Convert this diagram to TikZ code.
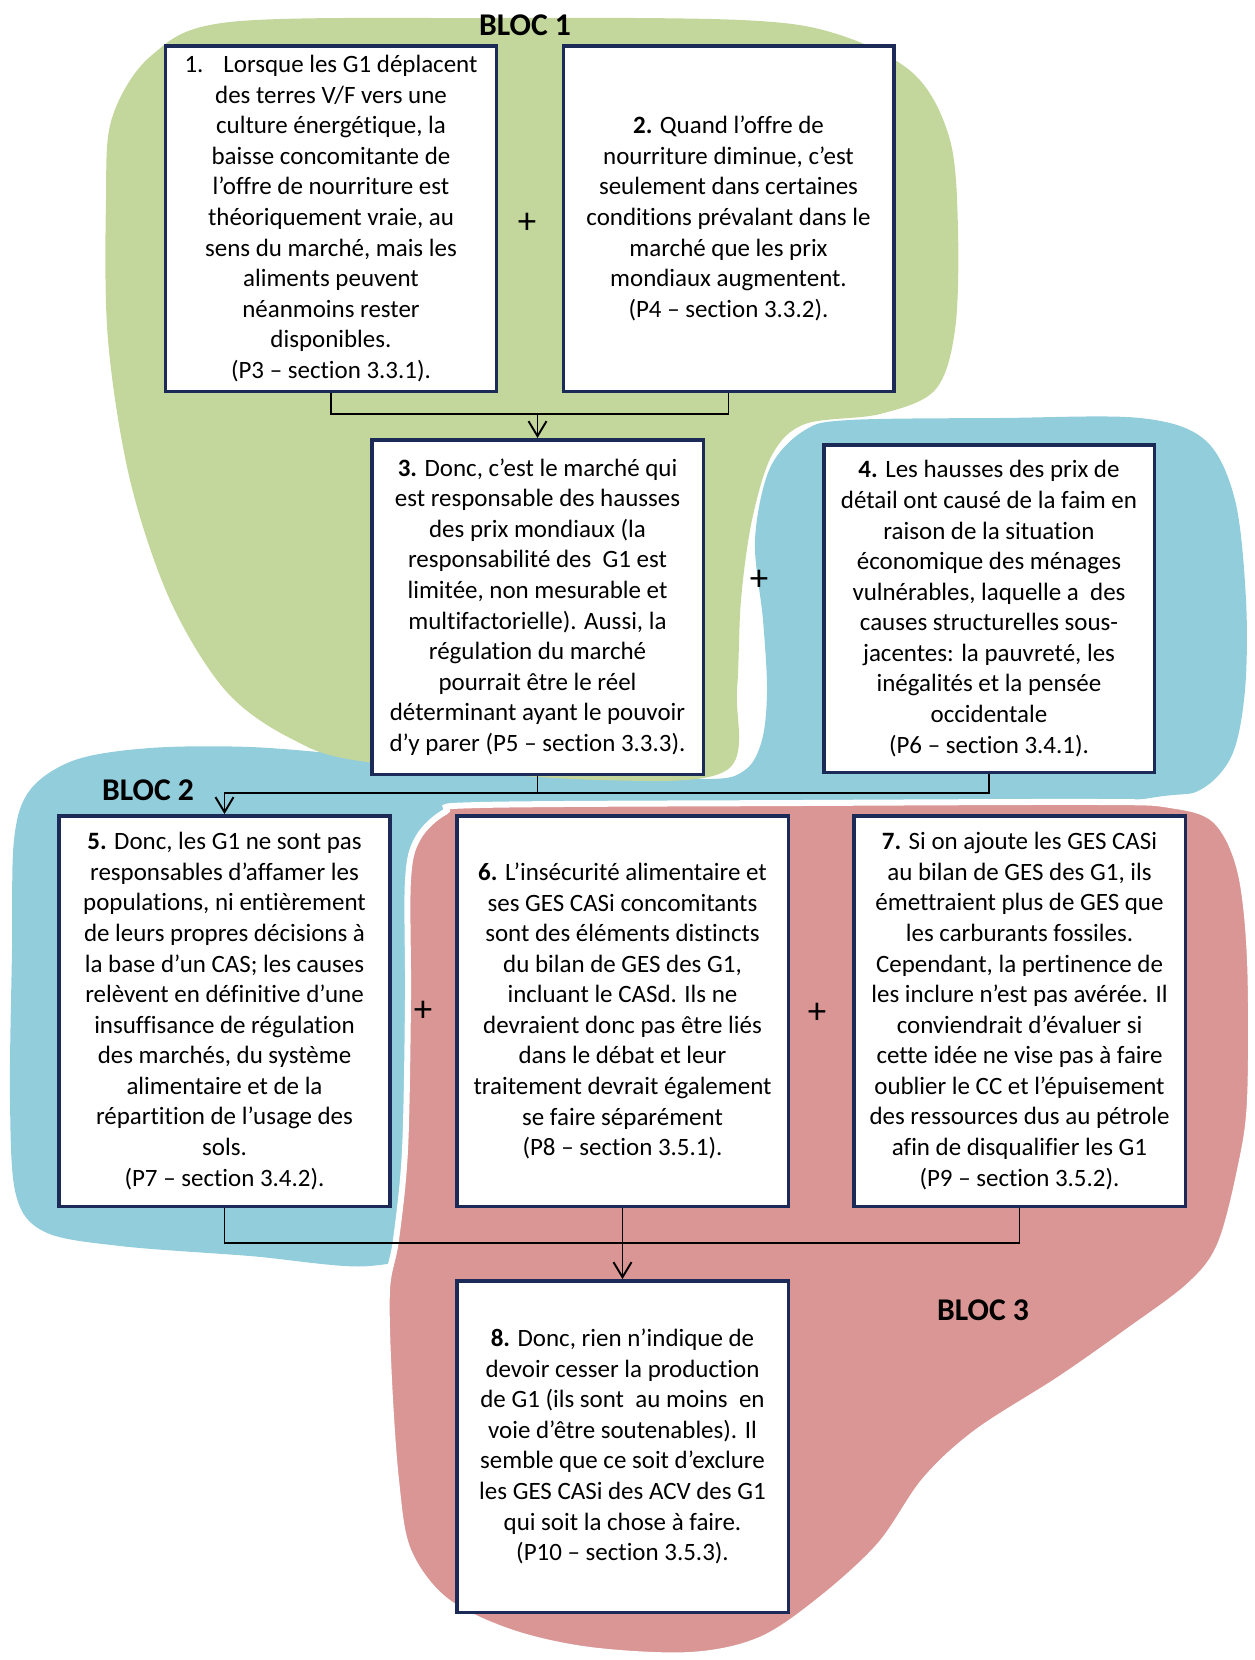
\documentclass[tikz,border=0pt]{standalone}
\usepackage{fontspec}
\setmainfont{Carlito}[Ligatures={NoCommon}]
\usepackage{tikz}
\usetikzlibrary{arrows.meta}
\definecolor{vert}{RGB}{195,214,155}
\definecolor{bleu}{RGB}{146,205,220}
\definecolor{rouge}{RGB}{217,150,148}
\definecolor{marine}{RGB}{28,42,88}
\tikzset{
    prem/.style={
           rectangle,
           draw=marine, line width=0.7mm,
           fill=white,
           inner sep=0pt,
           align=center,
           font=\fontsize{14.2}{17.4}\selectfont,
           },
}
\tikzset{
    bloc/.style={
           inner sep=0pt,
           font=\fontsize{18}{20}\selectfont\bfseries,
           },
}
\tikzset{
    signe/.style={
           inner sep=0pt,
           font=\fontsize{21}{22}\selectfont,
           },
}
\tikzset{
    lien/.style={
           draw=black, line width=0.38mm,
           },
}
\begin{document}
\begin{tikzpicture}[x=0.2mm, y=-0.2mm]
\useasboundingbox (0,0) rectangle (1255,1660);
\fill[bleu] plot[smooth cycle, tension=0.55] coordinates {(12,950) (14,840) (30,790) (75,760) (150,748) (250,747) (367,756) (560,770) (705,779) (745,770) (762,740) (767,690) (763,620) (755,540) (770,468) (805,430) (850,420) (1000,418) (1140,418) (1205,440) (1235,500) (1246,600) (1245,690) (1232,755) (1200,790) (1150,798) (950,830) (700,900) (520,1100) (425,1238) (370,1266) (250,1256) (120,1246) (45,1232) (16,1195) (10,1100)};
\fill[vert] plot[smooth cycle, tension=0.55] coordinates {(106,200) (112,118) (152,55) (230,22) (480,18) (741,20) (840,35) (915,75) (950,140) (958,230) (955,330) (935,390) (880,414) (805,424) (772,455) (752,520) (741,600) (737,690) (727,770) (600,780) (367,762) (290,738) (225,690) (170,600) (130,480) (108,340)};
\filldraw[color=white, fill=rouge, line width=1.2mm] plot[smooth cycle, tension=0.55] coordinates {(480,805) (800,803) (1100,802) (1170,805) (1215,820) (1240,870) (1250,960) (1250,1100) (1240,1170) (1220,1245) (1190,1285) (1127,1332) (1060,1379) (977,1432) (925,1480) (880,1545) (820,1600) (760,1640) (690,1655) (590,1650) (510,1632) (445,1600) (408,1550) (396,1480) (389,1380) (387,1290) (396,1240) (405,1150) (408,1000) (408,880) (418,838) (445,812)};
\node[bloc] (bloc1) at (525,25) {BLOC 1};
\node[bloc] (bloc2) at (148,790) {BLOC 2};
\node[bloc] (bloc3) at (983,1310) {BLOC 3};
\node[prem, minimum width=66.1mm, minimum height=69.1mm] (b1) at (331,218.5) {1.\hspace{0.8em}Lorsque les G1 déplacent\\des terres V/F vers une\\culture énergétique, la\\baisse concomitante de\\l’offre de nourriture est\\théoriquement vraie, au\\sens du marché, mais les\\aliments peuvent\\néanmoins rester\\disponibles.\\(P3 – section 3.3.1).};
\node[prem, minimum width=66.1mm, minimum height=69.1mm] (b2) at (728.5,218.5) {\textbf{2.} Quand l’offre de\\nourriture diminue, c’est\\seulement dans certaines\\conditions prévalant dans le\\marché que les prix\\mondiaux augmentent.\\(P4 – section 3.3.2).};
\node[prem, minimum width=66.3mm, minimum height=66.9mm] (b3) at (537.5,607) {\textbf{3.} Donc, c’est le marché qui\\est responsable des hausses\\des prix mondiaux (la\\responsabilité des\ \ G1 est\\limitée, non mesurable et\\multifactorielle). Aussi, la\\régulation du marché\\pourrait être le réel\\déterminant ayant le pouvoir\\d’y parer (P5 – section 3.3.3).};
\node[prem, minimum width=66.1mm, minimum height=65.5mm] (b4) at (989,608.5) {\textbf{4.} Les hausses des prix de\\détail ont causé de la faim en\\raison de la situation\\économique des ménages\\vulnérables, laquelle a\ \ des\\causes structurelles sous-\\jacentes: la pauvreté, les\\inégalités et la pensée\\occidentale\\(P6 – section 3.4.1).};
\node[prem, minimum width=66.1mm, minimum height=78.1mm] (b5) at (224.5,1011) {\textbf{5.} Donc, les G1 ne sont pas\\responsables d’affamer les\\populations, ni entièrement\\de leurs propres décisions à\\la base d’un CAS; les causes\\relèvent en définitive d’une\\insuffisance de régulation\\des marchés, du système\\alimentaire et de la\\répartition de l’usage des\\sols.\\(P7 – section 3.4.2).};
\node[prem, minimum width=66.3mm, minimum height=78.1mm] (b6) at (622.5,1011) {\textbf{6.} L’insécurité alimentaire et\\ses GES CASi concomitants\\sont des éléments distincts\\du bilan de GES des G1,\\incluant le CASd. Ils ne\\devraient donc pas être liés\\dans le débat et leur\\traitement devrait également\\se faire séparément\\(P8 – section 3.5.1).};
\node[prem, minimum width=66.3mm, minimum height=78.1mm] (b7) at (1019.5,1011) {\textbf{7.} Si on ajoute les GES CASi\\au bilan de GES des G1, ils\\émettraient plus de GES que\\les carburants fossiles.\\Cependant, la pertinence de\\les inclure n’est pas avérée. Il\\conviendrait d’évaluer si\\cette idée ne vise pas à faire\\oublier le CC et l’épuisement\\des ressources dus au pétrole\\afin de disqualifier les G1\\(P9 – section 3.5.2).};
\node[prem, minimum width=66.3mm, minimum height=66.3mm] (b8) at (622.5,1446.5) {\textbf{8.} Donc, rien n’indique de\\devoir cesser la production\\de G1 (ils sont\ \ au moins\ \ en\\voie d’être soutenables). Il\\semble que ce soit d’exclure\\les GES CASi des ACV des G1\\qui soit la chose à faire.\\(P10 – section 3.5.3).};
\node[signe] (plus1) at (527,223) {+};
\node[signe] (plus2) at (759,580) {+};
\node[signe] (plus3) at (423,1011) {+};
\node[signe] (plus4) at (817,1013) {+};
\coordinate (m12) at (537.5,414);
\coordinate (m34) at (537.5,793);
\coordinate (m57) at (622.5,1243);
\draw[lien] (b1.south) |- (m12) -| (b2.south);
\draw[lien, -{Straight Barb[length=3mm, width=3.6mm]}] (m12) to (b3.north);
\draw[lien] (b3.south) to (m34);
\draw[lien, -{Straight Barb[length=3mm, width=3.6mm]}] (b4.south) |- (m34) -| (b5.north);
\draw[lien] (b5.south) |- (m57) -| (b7.south);
\draw[lien] (b6.south) to (m57);
\draw[lien, -{Straight Barb[length=3mm, width=3.6mm]}] (m57) to (b8.north);
\end{tikzpicture}
\end{document}
